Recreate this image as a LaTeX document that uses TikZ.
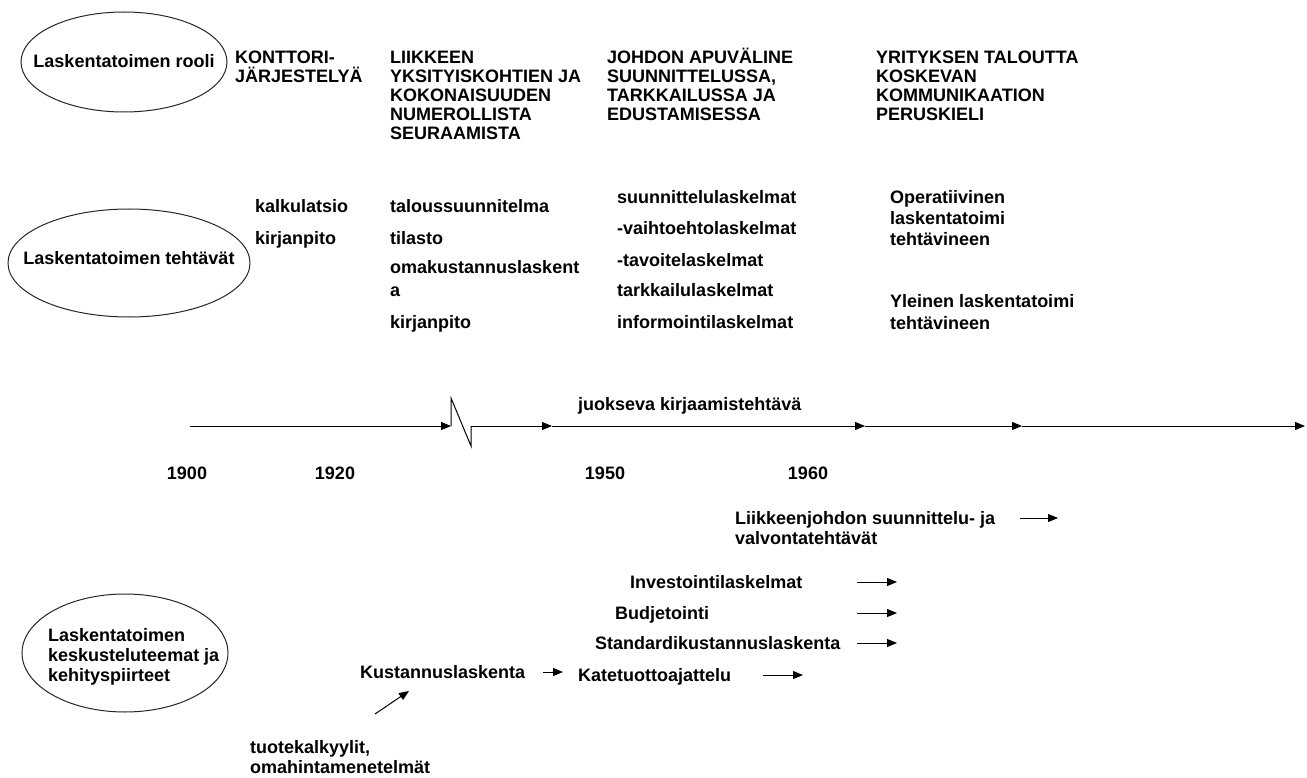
\documentclass[tikz,border=0pt]{standalone}
\usepackage{fontspec}
\setmainfont{Liberation Sans}
\usetikzlibrary{arrows.meta, positioning}

\tikzset{
  lbl/.style={font=\bfseries\fontsize{18}{19}\selectfont, inner sep=0pt, anchor=base west, align=left},
  bubble/.style={draw=black!85, line width=1pt},
  axis/.style={line width=1pt},
  arr/.style={axis, -{Triangle[length=10pt,width=8pt]}},
}

\begin{document}
\begin{tikzpicture}[x=1pt, y=-1pt]
  \useasboundingbox (0,0) rectangle (1307,778);

  % roolit (base = last line)
  \node[lbl, anchor=base] (rooli) at (124,68) {Laskentatoimen rooli};
  \draw[bubble] (124,62) ellipse [x radius=103pt, y radius=50pt];
  \node[lbl] (konttori) at (235,83) {KONTTORI-\\JÄRJESTELYÄ};
  \node[lbl] (liike) at (390,140) {LIIKKEEN\\YKSITYISKOHTIEN JA\\KOKONAISUUDEN\\NUMEROLLISTA\\SEURAAMISTA};
  \node[lbl] (johto1) at (607,121) {JOHDON APUVÄLINE\\SUUNNITTELUSSA,\\TARKKAILUSSA JA\\EDUSTAMISESSA};
  \node[lbl] (kieli) at (876,121) {YRITYKSEN TALOUTTA\\KOSKEVAN\\KOMMUNIKAATION\\PERUSKIELI};

  % tehtavat
  \node[lbl, anchor=base] (tehtavat) at (129,265) {Laskentatoimen tehtävät};
  \draw[bubble] (129,263) ellipse [x radius=121pt, y radius=54pt];
  \node[lbl] (kalk) at (255,213) {kalkulatsio};
  \node[lbl] (kirja1) at (255,244) {kirjanpito};
  \node[lbl] (talous) at (390,213) {taloussuunnitelma};
  \node[lbl] (tilasto) at (390,244) {tilasto};
  \node[lbl] (omakust) at (390,296) {omakustannuslaskent\\[4pt]a};
  \node[lbl] (kirja2) at (390,328) {kirjanpito};
  \node[lbl] (suunn) at (617,204) {suunnittelulaskelmat};
  \node[lbl] (vaiht) at (617,235) {-vaihtoehtolaskelmat};
  \node[lbl] (tavo) at (617,266) {-tavoitelaskelmat};
  \node[lbl] (tarkk) at (617,297) {tarkkailulaskelmat};
  \node[lbl] (inform) at (617,328) {informointilaskelmat};
  \node[lbl] (oper) at (890,246) {Operatiivinen\\[2pt]laskentatoimi\\[2pt]tehtävineen};
  \node[lbl] (yleinen) at (890,329) {Yleinen laskentatoimi\\[2pt]tehtävineen};

  % aikajana
  \coordinate (t0) at (190,426);
  \coordinate (z0) at (451,426);
  \coordinate (z1) at (451,398);
  \coordinate (z2) at (471,446);
  \coordinate (z3) at (471,426);
  \coordinate (t1) at (552,426);
  \coordinate (t2) at (865,426);
  \coordinate (t3) at (1022,426);
  \coordinate (t4) at (1305,426);
  \draw[arr] (t0) -- (z0);
  \draw[axis] (z0) -- (z1) -- (z2) -- (z3);
  \draw[arr] (z3) -- (t1);
  \draw[arr] (t1) -- (t2);
  \draw[arr] (t2) -- (t3);
  \draw[arr] (t3) -- (t4);
  \node[lbl] (juoks) at (578,410) {juokseva kirjaamistehtävä};
  \node[lbl, anchor=base] (v1900) at (187,479) {1900};
  \node[lbl, anchor=base] (v1920) at (335,479) {1920};
  \node[lbl, anchor=base] (v1950) at (605,479) {1950};
  \node[lbl, anchor=base] (v1960) at (808,479) {1960};

  % keskusteluteemat
  \node[lbl] (keskust) at (48,681) {Laskentatoimen\\[1pt]keskusteluteemat ja\\[1pt]kehityspiirteet};
  \draw[bubble] (125,653) ellipse [x radius=103pt, y radius=59pt];
  \node[lbl] (liikjoht) at (735,544) {Liikkeenjohdon suunnittelu- ja\\[1pt]valvontatehtävät};
  \node[lbl] (invest) at (630,588) {Investointilaskelmat};
  \node[lbl] (budj) at (615,619) {Budjetointi};
  \node[lbl] (stand) at (595,649) {Standardikustannuslaskenta};
  \node[lbl] (kate) at (578,681) {Katetuottoajattelu};
  \node[lbl] (kust) at (360,678) {Kustannuslaskenta};
  \node[lbl] (tuote) at (250,773) {tuotekalkyylit,\\[1pt]omahintamenetelmät};

  \coordinate (a1) at (1020,518); \coordinate (b1) at (1058,518);
  \coordinate (a2) at (857,582);  \coordinate (b2) at (897,582);
  \coordinate (a3) at (857,613);  \coordinate (b3) at (897,613);
  \coordinate (a4) at (857,643);  \coordinate (b4) at (897,643);
  \coordinate (a5) at (763,675);  \coordinate (b5) at (803,675);
  \coordinate (a6) at (375,714);  \coordinate (b6) at (409,691);
  \coordinate (k1) at (543,672);  \coordinate (k2) at (563,672);
  \draw[arr] (a1) -- (b1);
  \draw[arr] (a2) -- (b2);
  \draw[arr] (a3) -- (b3);
  \draw[arr] (a4) -- (b4);
  \draw[arr] (a5) -- (b5);
  \draw[arr] (k1) -- (k2);
  \draw[arr] (a6) -- (b6);
\end{tikzpicture}
\end{document}
